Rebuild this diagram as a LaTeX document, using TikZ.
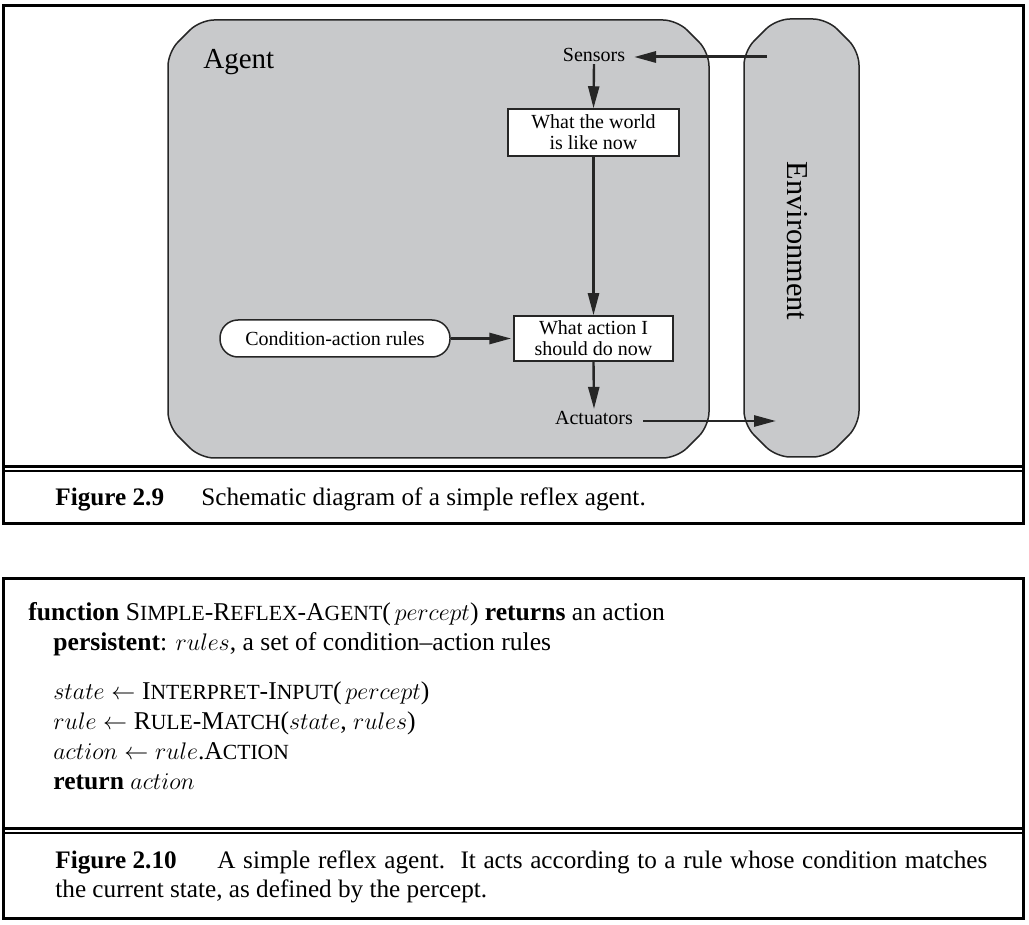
\documentclass[tikz,border=0pt]{standalone}
\usepackage{fontspec}
\setmainfont{Liberation Serif}
\usetikzlibrary{arrows.meta}
\definecolor{agentgray}{RGB}{200,201,203}
\newcommand{\fsc}[2]{#1{\fontsize{10.8}{12}\selectfont #2}}
\tikzset{
  panel/.style={draw=black, line width=1.5pt},
  blob/.style={draw=black!85, line width=0.75pt, fill=agentgray, rounded corners=7pt},
  infobox/.style={draw=black!85, line width=0.75pt, fill=white, align=center, font=\fontsize{10}{10.5}\selectfont, inner sep=0pt},
  pill/.style={draw=black!85, line width=0.75pt, fill=white, rounded corners=9pt, font=\fontsize{10}{12}\selectfont, inner sep=0pt},
  lbl/.style={font=\fontsize{10}{12}\selectfont, inner sep=1pt},
  flow/.style={line width=1.2pt, draw=black!85, -{Triangle[length=11pt,width=5.5pt]}},
  algo/.style={anchor=base west, inner sep=0pt, font=\fontsize{12.8}{15}\selectfont},
  capt/.style={anchor=base west, inner sep=0pt, font=\fontsize{12.6}{15}\selectfont},
}
\begin{document}
\begin{tikzpicture}[x=0.5pt, y=-0.5pt]
\useasboundingbox (0,0) rectangle (1029,925);
% ---------- Figure 2.9 frame ----------
\draw[panel] (3,6) rectangle (1023,523);
\draw[line width=1.5pt] (3,466.5) -- (1023,466.5);
\draw[line width=0.75pt] (3,471) -- (1023,471);
% agent blob
\draw[blob] (168,52) -- (200,20) -- (677,20) -- (709,52) -- (709,426) -- (677,458) -- (200,458) -- (168,426) -- cycle;
% environment blob
\draw[blob] (744,51) -- (776,19) -- (827,19) -- (859,51) -- (859,425) -- (827,457) -- (776,457) -- (744,425) -- cycle;
\node[anchor=base west, inner sep=0pt, font=\fontsize{14.5}{16}\selectfont] (agentlbl) at (203,69) {Agent};
\node[rotate=-90, inner sep=0pt, font=\fontsize{15.2}{16}\selectfont] (envlbl) at (797,241) {Environment};
% nodes
\node[lbl] (sensors) at (594,55) {Sensors};
\node[infobox, minimum width=85.5pt, minimum height=23.5pt] (world) at (593.5,132.5) {What the world\\is like now};
\node[infobox, minimum width=79.5pt, minimum height=22.5pt] (action) at (593.5,338.5) {What action I\\should do now};
\node[pill, minimum width=115pt, minimum height=18.5pt] (rules) at (335,338.5) {Condition-action rules};
\node[lbl] (actuators) at (594,418) {Actuators};
\coordinate (envin) at (767,57);
\coordinate (sensin) at (634,57);
\coordinate (envout) at (776,421);
\coordinate (actout) at (643,421);
% connectors
\draw[flow, line width=1.5pt] (envin) -- (sensin);
\draw[flow] (sensors.south) -- (world.north);
\draw[flow] (world.south) -- (action.north);
\draw[flow, line width=1.4pt, shorten >=1pt] (rules.east) -- (rules.east -| action.west);
\draw[flow] (action.south) -- (actuators.north);
\draw[flow, line width=1.4pt] (actout) -- (envout);
% caption
\node[capt] (fig9) at (55,505) {\textbf{Figure 2.9}};
\node[capt] (cap9) at (201,505) {Schematic diagram of a simple reflex agent.};
% ---------- Figure 2.10 frame ----------
\draw[panel] (3,578) rectangle (1023,918);
\draw[line width=1.5pt] (3,828.5) -- (1023,828.5);
\draw[line width=0.75pt] (3,833) -- (1023,833);
\node[algo] (l1) at (28,620) {\textbf{function} \fsc{S}{IMPLE}-\fsc{R}{EFLEX}-\fsc{A}{GENT}($\,percept$) \textbf{returns} an action};
\node[algo] (l2) at (53,650) {\textbf{persistent}: $rules$, a set of condition--action rules};
\node[algo] (l3) at (53,699) {$state \leftarrow{}$\fsc{I}{NTERPRET}-\fsc{I}{NPUT}($\,percept$)};
\node[algo] (l4) at (53,729) {$rule \leftarrow{}$\fsc{R}{ULE}-\fsc{M}{ATCH}($state$, $rules$)};
\node[algo] (l5) at (53,759) {$action \leftarrow rule$.\fsc{A}{CTION}};
\node[algo] (l6) at (53,789) {\textbf{return} $action$};
\node[capt] (fig10) at (55,868) {\textbf{Figure 2.10}};
\node[capt] (cap10a) at (217,868) {\makebox[385pt][s]{A simple reflex agent.\ \ It acts according to a rule whose condition matches}};
\node[capt] (cap10b) at (55,897) {the current state, as defined by the percept.};
\end{tikzpicture}
\end{document}
